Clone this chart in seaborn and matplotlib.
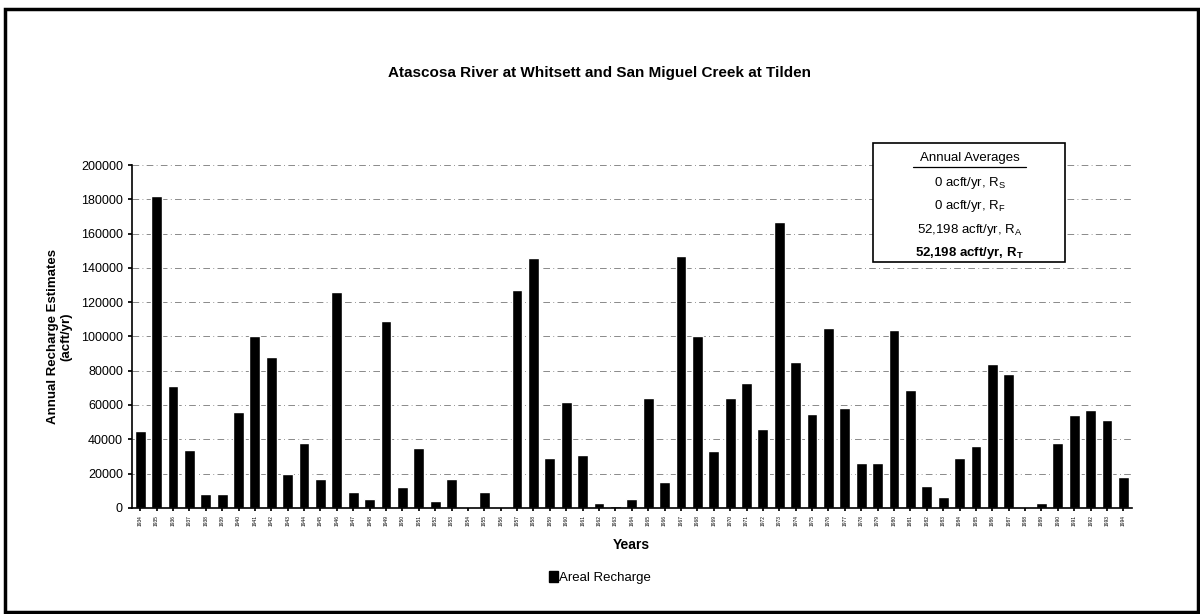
import matplotlib
matplotlib.use("Agg")
import matplotlib.pyplot as plt
import matplotlib.patches as patches
from matplotlib.lines import Line2D
import seaborn as sns
import pandas as pd

# Annual areal recharge estimates, acft/yr
years = list(range(1934, 1995))
recharge = [
    45000, 182000, 71000, 34000, 8000, 8000, 56000, 100000, 88000, 20000,
    38000, 17000, 126000, 9000, 5000, 109000, 12000, 35000, 4000, 17000,
    500, 9000, 0, 127000, 146000, 29000, 62000, 31000, 3000, 1000,
    5000, 64000, 15000, 147000, 100000, 33000, 64000, 73000, 46000, 167000,
    85000, 55000, 105000, 58000, 26000, 26000, 104000, 69000, 13000, 6000,
    29000, 36000, 84000, 78000, 0, 3000, 38000, 54000, 57000, 51000,
    18000,
]
avg_lines = [
    r"0 acft/yr, R$_\mathregular{S}$",
    r"0 acft/yr, R$_\mathregular{F}$",
    r"52,198 acft/yr, R$_\mathregular{A}$",
    r"52,198 acft/yr, R$_\mathregular{T}$",
]

df = pd.DataFrame({"Year": [str(y) for y in years], "Areal Recharge": recharge})

sns.set_theme(style="white")
plt.rcParams["font.family"] = ["Liberation Sans", "DejaVu Sans"]
plt.rcParams.update({"text.color": "black", "axes.labelcolor": "black",
                     "xtick.color": "black", "ytick.color": "black"})

fig = plt.figure(figsize=(12, 6.14), dpi=100)
ax = fig.add_axes([0.11, 0.173, 0.833, 0.558])

sns.barplot(data=df, x="Year", y="Areal Recharge", color="black",
            width=0.66, ax=ax, saturation=1)

ax.set_ylim(0, 200000)
ax.set_yticks(range(0, 200001, 20000))
ax.tick_params(axis="y", labelsize=9, length=3, direction="out", left=True)
ax.tick_params(axis="x", labelsize=3.5, rotation=90, length=2, bottom=True)
ax.yaxis.grid(True, linestyle=(0, (8, 4, 1, 4)), color="#777777", linewidth=0.6)
ax.set_axisbelow(True)
for s in ["top", "right"]:
    ax.spines[s].set_visible(False)
for s in ["left", "bottom"]:
    ax.spines[s].set_color("black")
    ax.spines[s].set_linewidth(1.2)

ax.set_xlabel("Years", fontsize=10, fontweight="bold", labelpad=8)
ax.set_ylabel("Annual Recharge Estimates\n(acft/yr)", fontsize=9.5, fontweight="bold", labelpad=6)

fig.text(0.5, 0.881, "Atascosa River at Whitsett and San Miguel Creek at Tilden",
         ha="center", va="center", fontsize=11, fontweight="bold")

# legend below the axes
handles = [patches.Patch(color="black", label="Areal Recharge")]
fig.legend(handles=handles, loc="center", bbox_to_anchor=(0.5, 0.059), frameon=False,
           fontsize=9.5, handlelength=0.7, handleheight=0.9, handletextpad=0.05)

# annual averages box
fig.add_artist(patches.Rectangle((0.7275, 0.573), 0.16, 0.194, transform=fig.transFigure,
                                 fill=True, facecolor="white", edgecolor="black", linewidth=1.2))
cx = 0.808
fig.text(cx, 1 - 158 / 614, "Annual Averages", ha="center", va="center", fontsize=9.5)
fig.add_artist(Line2D([0.761, 0.855], [1 - 167 / 614] * 2, transform=fig.transFigure,
                      color="black", linewidth=0.9))
ys = [183, 206, 230, 253]
for i, (txt, y) in enumerate(zip(avg_lines, ys)):
    fig.text(cx, 1 - y / 614, txt, ha="center", va="center", fontsize=9.5,
             fontweight="bold" if i == 3 else "normal")

# outer frame
fig.add_artist(patches.Rectangle((0.004, 0.004), 0.994, 0.982, transform=fig.transFigure,
                                 fill=False, edgecolor="black", linewidth=2.5))

fig.savefig("out.png", dpi=100)
